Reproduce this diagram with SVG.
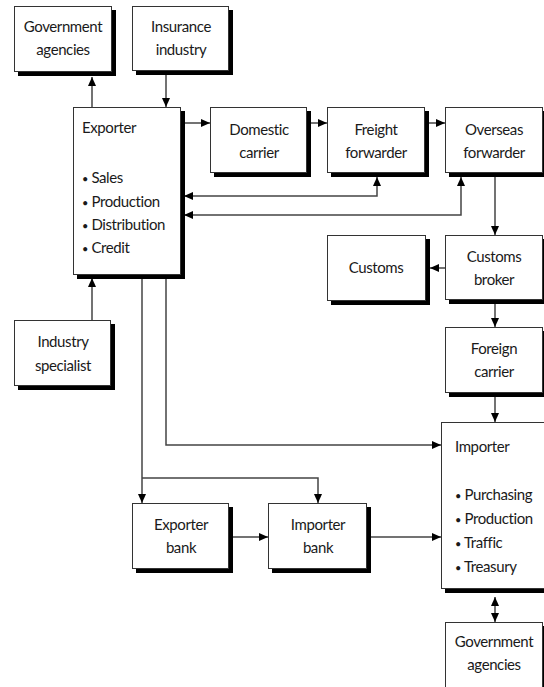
<svg xmlns="http://www.w3.org/2000/svg" width="544" height="687" viewBox="0 0 544 687">
<style>
.sh{fill:#000}
.bx{fill:#fff;stroke:#333;stroke-width:1}
text{font-family:Lato,"Liberation Sans",sans-serif;font-size:15px;font-weight:400;letter-spacing:-0.4px;fill:#1a1a1a}
.c{text-anchor:middle}
.b{font-size:11px}
.cn path,.cn line{fill:none;stroke:#444;stroke-width:1.5}
</style>
<defs>
<marker id="ah" markerUnits="userSpaceOnUse" markerWidth="10" markerHeight="10" refX="9" refY="4" orient="auto-start-reverse">
<path d="M0,0 L9,4 L0,8 z" fill="#000"/>
</marker>
</defs>
<g class="cn" id="connectors">
<line x1="92" y1="107" x2="92" y2="77" marker-end="url(#ah)"/>
<line x1="166" y1="75" x2="166" y2="107" marker-end="url(#ah)"/>
<line x1="184" y1="123" x2="210" y2="123" marker-end="url(#ah)"/>
<line x1="311" y1="123" x2="327" y2="123" marker-end="url(#ah)"/>
<line x1="429" y1="123" x2="445" y2="123" marker-end="url(#ah)"/>
<path d="M377,177 V196 H184" marker-start="url(#ah)" marker-end="url(#ah)"/>
<path d="M461,177 V215 H184" marker-start="url(#ah)" marker-end="url(#ah)"/>
<line x1="495" y1="177" x2="495" y2="235" marker-end="url(#ah)"/>
<line x1="445" y1="268" x2="430" y2="268" marker-end="url(#ah)"/>
<line x1="495" y1="304" x2="495" y2="327" marker-end="url(#ah)"/>
<line x1="495" y1="397" x2="495" y2="422" marker-end="url(#ah)"/>
<path d="M166,278 V445 H441" marker-end="url(#ah)"/>
<path d="M142,278 V503" marker-end="url(#ah)"/>
<path d="M142,478 H318 V503" marker-end="url(#ah)"/>
<line x1="232" y1="537" x2="268" y2="537" marker-end="url(#ah)"/>
<line x1="371" y1="537" x2="441" y2="537" marker-end="url(#ah)"/>
<line x1="495" y1="597" x2="495" y2="622" marker-start="url(#ah)" marker-end="url(#ah)"/>
<line x1="92" y1="320" x2="92" y2="278" marker-end="url(#ah)"/>
</g>
<g id="gov-agencies-top">
<rect class="sh" x="18" y="10" width="98" height="66"/>
<rect class="bx" x="14.5" y="6.5" width="97" height="65"/>
<text class="c" x="63" y="32">Government</text>
<text class="c" x="63" y="55">agencies</text>
</g>
<g id="insurance-industry">
<rect class="sh" x="136" y="10" width="97" height="65"/>
<rect class="bx" x="132.5" y="6.5" width="96" height="64"/>
<text class="c" x="181" y="32">Insurance</text>
<text class="c" x="181" y="55">industry</text>
</g>
<g id="exporter">
<rect class="sh" x="77" y="111" width="108" height="168"/>
<rect class="bx" x="73.5" y="107.5" width="107" height="167"/>
<text x="82" y="133">Exporter</text>
<text x="82" y="183"><tspan class="b">•</tspan> Sales</text>
<text x="82" y="207"><tspan class="b">•</tspan> Production</text>
<text x="82" y="230"><tspan class="b">•</tspan> Distribution</text>
<text x="82" y="253"><tspan class="b">•</tspan> Credit</text>
</g>
<g id="domestic-carrier">
<rect class="sh" x="214" y="111" width="97" height="66"/>
<rect class="bx" x="210.5" y="107.5" width="96" height="65"/>
<text class="c" x="259" y="135">Domestic</text>
<text class="c" x="259" y="158">carrier</text>
</g>
<g id="freight-forwarder">
<rect class="sh" x="331" y="111" width="98" height="66"/>
<rect class="bx" x="327.5" y="107.5" width="97" height="65"/>
<text class="c" x="376" y="135">Freight</text>
<text class="c" x="376" y="158">forwarder</text>
</g>
<g id="overseas-forwarder">
<rect class="sh" x="449" y="111" width="98" height="66"/>
<rect class="bx" x="445.5" y="107.5" width="97" height="65"/>
<text class="c" x="494" y="135">Overseas</text>
<text class="c" x="494" y="158">forwarder</text>
</g>
<g id="customs">
<rect class="sh" x="331" y="239" width="99" height="66"/>
<rect class="bx" x="327.5" y="235.5" width="98" height="65"/>
<text class="c" x="376" y="273">Customs</text>
</g>
<g id="customs-broker">
<rect class="sh" x="449" y="239" width="98" height="65"/>
<rect class="bx" x="445.5" y="235.5" width="97" height="64"/>
<text class="c" x="494" y="262">Customs</text>
<text class="c" x="494" y="285">broker</text>
</g>
<g id="foreign-carrier">
<rect class="sh" x="449" y="331" width="98" height="66"/>
<rect class="bx" x="445.5" y="327.5" width="97" height="65"/>
<text class="c" x="494" y="354">Foreign</text>
<text class="c" x="494" y="377">carrier</text>
</g>
<g id="industry-specialist">
<rect class="sh" x="18" y="324" width="97" height="66"/>
<rect class="bx" x="14.5" y="320.5" width="96" height="65"/>
<text class="c" x="63" y="347">Industry</text>
<text class="c" x="63" y="371">specialist</text>
</g>
<g id="importer">
<rect class="sh" x="445" y="426" width="103" height="167"/>
<rect class="bx" x="441.5" y="422.5" width="103" height="166"/>
<text x="455" y="452">Importer</text>
<text x="455" y="500"><tspan class="b">•</tspan> Purchasing</text>
<text x="455" y="524"><tspan class="b">•</tspan> Production</text>
<text x="455" y="548"><tspan class="b">•</tspan> Traffic</text>
<text x="455" y="572"><tspan class="b">•</tspan> Treasury</text>
</g>
<g id="exporter-bank">
<rect class="sh" x="136" y="507" width="97" height="66"/>
<rect class="bx" x="132.5" y="503.5" width="96" height="65"/>
<text class="c" x="181" y="530">Exporter</text>
<text class="c" x="181" y="553">bank</text>
</g>
<g id="importer-bank">
<rect class="sh" x="272" y="507" width="99" height="66"/>
<rect class="bx" x="268.5" y="503.5" width="98" height="65"/>
<text class="c" x="318" y="530">Importer</text>
<text class="c" x="318" y="553">bank</text>
</g>
<g id="gov-agencies-bottom">
<rect class="sh" x="449" y="626" width="98" height="66"/>
<rect class="bx" x="445.5" y="622.5" width="97" height="65"/>
<text class="c" x="494" y="647">Government</text>
<text class="c" x="494" y="670">agencies</text>
</g>
</svg>
